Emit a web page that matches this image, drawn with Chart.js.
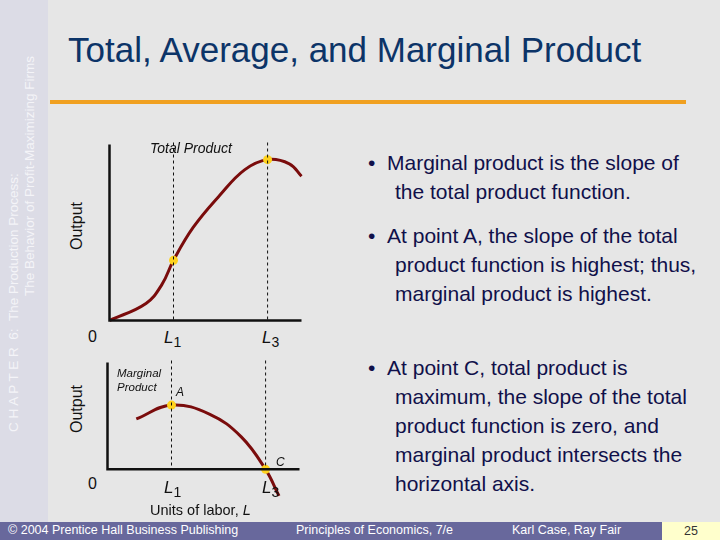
<!DOCTYPE html>
<html><head><meta charset="utf-8">
<script src="https://cdn.jsdelivr.net/npm/chart.js@4/dist/chart.umd.min.js"></script>
<style>
body{margin:0;width:720px;height:540px;overflow:hidden;background:#e6e6e6;font-family:"Liberation Sans",Arial,sans-serif;position:relative}
.abs{position:absolute;white-space:nowrap}
#side{left:0;top:0;width:48px;height:522px;background:#dcdce6}
.sidet{color:#f4f4f8;font-size:13.5px;transform:rotate(-90deg);transform-origin:left top;line-height:15px}
#title{left:68px;top:30px;font-size:35px;color:#0c3468}
#rule{left:50px;top:100px;width:636px;height:4px;background:#f0a020}
.bul{left:368px;width:318px;font-size:21px;color:#10104a;line-height:29px;white-space:normal;padding-left:27px;text-indent:-27px}
#foot{left:0;top:522px;width:720px;height:18px;background:#68689c;color:#fff;font-size:12.5px}
#pg{left:662px;top:522px;width:58px;height:18px;background:#ffffcc;color:#333;font-size:12.5px;text-align:center;line-height:18px}
.lab{font-size:15px;color:#111}
canvas{display:block}
</style></head><body>
<div class="abs" id="side"></div>
<div class="abs sidet" style="left:6px;top:432px">C H A P T E R &nbsp;6: &nbsp;The Production Process:</div>
<div class="abs sidet" style="left:22px;top:296px">The Behavior of Profit-Maximizing Firms</div>
<div class="abs" id="title">Total, Average, and Marginal Product</div>
<div class="abs" id="rule"></div>

<div class="abs" style="left:105px;top:140px;width:201px;height:185px"><canvas id="tp"></canvas></div>
<div class="abs" style="left:103px;top:358px;width:201px;height:148px"><canvas id="mp"></canvas></div>

<div class="abs lab" style="left:150px;top:140px;font-style:italic;font-size:14px">Total Product</div>
<div class="abs lab" style="left:68px;top:250px;transform:rotate(-90deg);transform-origin:left top;font-size:16px">Output</div>
<div class="abs lab" style="left:68px;top:433px;transform:rotate(-90deg);transform-origin:left top;font-size:16px">Output</div>
<div class="abs lab" style="left:88px;top:328px;font-size:16px">0</div>
<div class="abs lab" style="left:164px;top:328px;font-size:17px;font-style:italic">L<sub style="font-style:normal;font-size:14px">1</sub></div>
<div class="abs lab" style="left:262px;top:328px;font-size:17px;font-style:italic">L<sub style="font-style:normal;font-size:14px">3</sub></div>
<div class="abs lab" style="left:88px;top:475px;font-size:16px">0</div>
<div class="abs lab" style="left:164px;top:478px;font-size:17px;font-style:italic">L<sub style="font-style:normal;font-size:14px">1</sub></div>
<div class="abs lab" style="left:262px;top:478px;font-size:17px;font-style:italic">L<sub style="font-style:normal;font-size:14px">3</sub></div>
<div class="abs lab" style="left:150px;top:502px;font-size:14.5px">Units of labor, <i>L</i></div>
<div class="abs lab" style="left:117px;top:366px;font-size:11.5px;font-style:italic;line-height:14px">Marginal<br>Product</div>
<div class="abs lab" style="left:176px;top:385px;font-size:12px;font-style:italic">A</div>
<div class="abs lab" style="left:276px;top:455px;font-size:12px;font-style:italic">C</div>

<div class="abs bul" style="top:148px">• &nbsp;Marginal product is the slope of the total product function.</div>
<div class="abs bul" style="top:221px">• &nbsp;At point A, the slope of the total product function is highest; thus, marginal product is highest.</div>
<div class="abs bul" style="top:353px">• &nbsp;At point C, total product is maximum, the slope of the total product function is zero, and marginal product intersects the horizontal axis.</div>

<div class="abs" id="foot">
<span class="abs" style="left:8px;top:1px">© 2004 Prentice Hall Business Publishing</span>
<span class="abs" style="left:296px;top:1px">Principles of Economics, 7/e</span>
<span class="abs" style="left:512px;top:1px">Karl Case, Ray Fair</span>
</div>
<div class="abs" id="pg">25</div>

<script>
// labour units (L1 = 1, L3 = 2.47), output in arbitrary units
const tpX = [0, 0.57, 0.82, 1.0, 1.31, 1.72, 2.11, 2.47, 2.81, 3.0];
const tpY = [0, 0.97, 2.05, 3.42, 5.3, 7.1, 8.56, 9.14, 8.9, 8.2];
const mpX = [0.45, 1.0, 1.6, 2.09, 2.47, 2.68];
const mpY = [2.9, 3.7, 3.17, 1.87, 0, -1.53];
const tpMarks = [[1.0, 3.42], [2.47, 9.14]];
const mpMarks = [[1.0, 3.7], [2.47, 0]];
const guideX = [1.0, 2.47];

const axesPlugin = {
    id: 'axes',
    afterDatasetsDraw(chart) {
        const c = chart.ctx, x = chart.scales.x, y = chart.scales.y;
        const x0 = x.getPixelForValue(0), y0 = y.getPixelForValue(0);
        c.save();
        c.strokeStyle = '#111';
        c.setLineDash([3, 3]);
        c.lineWidth = 1;
        guideX.forEach(g => {
            c.beginPath();
            c.moveTo(x.getPixelForValue(g), chart.chartArea.top - 20);
            c.lineTo(x.getPixelForValue(g), y0);
            c.stroke();
        });
        c.setLineDash([]);
        c.lineWidth = 2.5;
        c.beginPath();
        c.moveTo(x0, chart.chartArea.top);
        c.lineTo(x0, y0);
        c.lineTo(chart.chartArea.right, y0);
        c.stroke();
        c.restore();
    }
};

function makeChart(id, xs, ys, marks, ymin, ymax) {
    return new Chart(document.getElementById(id), {
        type: 'scatter',
        data: {
            datasets: [{
                data: marks.map(m => ({x: m[0], y: m[1]})),
                pointRadius: 4.5, pointBackgroundColor: '#ffd21e',
                pointBorderWidth: 0, clip: false, order: 0
            }, {
                data: xs.map((v, i) => ({x: v, y: ys[i]})),
                showLine: true, borderColor: '#7a0c0c', borderWidth: 3,
                pointRadius: 0, tension: 0.4, clip: false, order: 1
            }]
        },
        options: {
            responsive: true, maintainAspectRatio: false, animation: false,
            layout: {padding: 0},
            scales: {
                x: {type: 'linear', min: 0, max: 3, display: false},
                y: {type: 'linear', min: ymin, max: ymax, display: false}
            },
            plugins: {legend: {display: false}, tooltip: {enabled: false}}
        },
        plugins: [axesPlugin]
    });
}

makeChart('tp', tpX, tpY, tpMarks, 0, 10);
makeChart('mp', mpX, mpY, mpMarks, -1.85, 6.15);
</script>
</body></html>
